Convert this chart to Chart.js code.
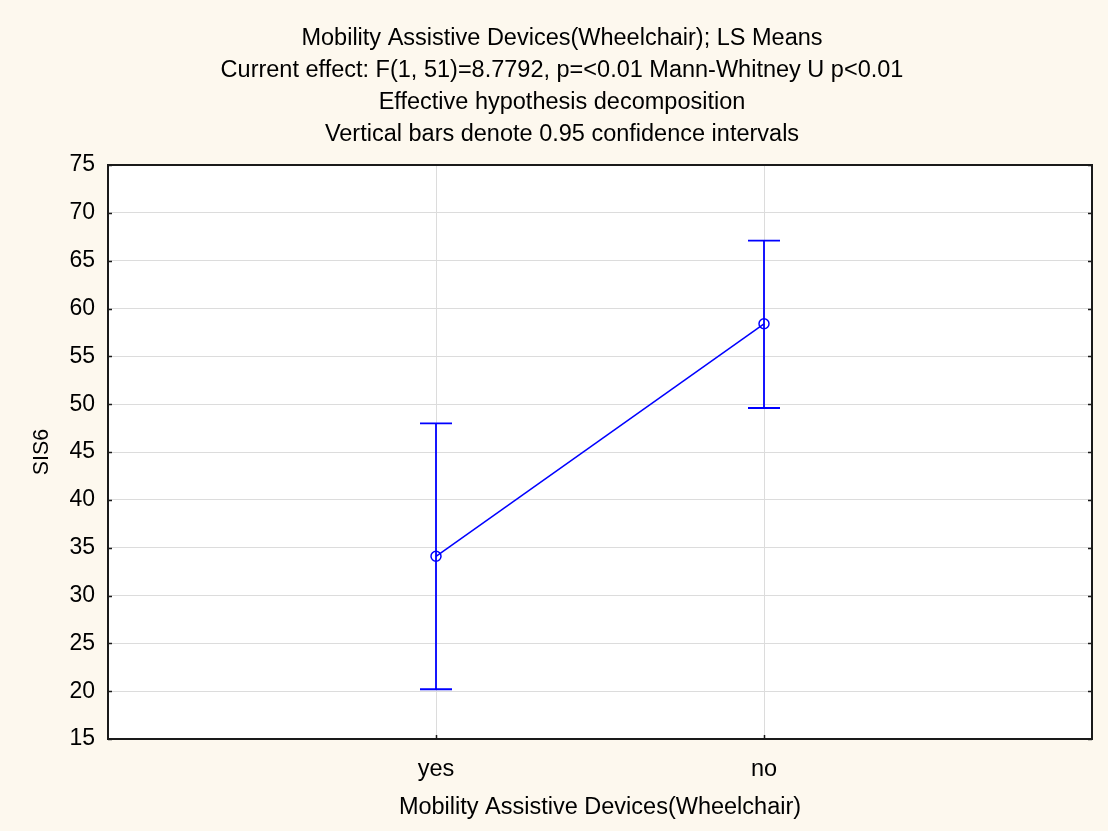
<!DOCTYPE html>
<html>
<head>
<meta charset="utf-8">
<title>SIS6 LS Means</title>
<script src="https://cdn.jsdelivr.net/npm/chart.js@4/dist/chart.umd.min.js"></script>
<style>
  html, body { margin: 0; padding: 0; background: #fdf8ee; }
  canvas { display: block; }
</style>
</head>
<body>
<canvas id="lsMeansChart" width="1108" height="831"></canvas>
<script>
// Wheelchair groups and their SIS6 least-squares means with 95% CI
const categories = ['yes', 'no'];
const lsMeans = [34.1, 58.4];
const ciLower = [20.2, 49.6];
const ciUpper = [48.0, 67.1];

const yMin = 15;
const yMax = 75;
const yStep = 5;

const titleLines = [
    'Mobility Assistive Devices(Wheelchair); LS Means',
    'Current effect: F(1, 51)=8.7792, p=<0.01 Mann-Whitney U p<0.01',
    'Effective hypothesis decomposition',
    'Vertical bars denote 0.95 confidence intervals'
];
const xTitle = 'Mobility Assistive Devices(Wheelchair)';
const yTitle = 'SIS6';

// empty slots on both sides keep the two groups at 1/3 and 2/3 of the width
const xLabels = [''].concat(categories, ['']);
const yValues = [null].concat(lsMeans, [null]);

const FONT = "'Liberation Sans', Arial, sans-serif";
const LINE_BLUE = '#0000ff';

// white plot area, frame, inward ticks and the CI whiskers
const plotFrame = {
    id: 'plotFrame',
    beforeDraw(chart) {
        const { ctx, chartArea: a } = chart;
        ctx.save();
        ctx.fillStyle = '#fdf8ee';
        ctx.fillRect(0, 0, chart.width, chart.height);
        ctx.fillStyle = '#ffffff';
        ctx.fillRect(a.left, a.top, a.right - a.left, a.bottom - a.top);
        ctx.restore();
    },
    beforeDatasetsDraw(chart) {
        const { ctx, scales } = chart;
        const x = scales.x;
        const y = scales.y;
        ctx.save();
        ctx.strokeStyle = LINE_BLUE;
        ctx.lineWidth = 1.8;
        const cap = 16;
        categories.forEach((c, i) => {
            const px = x.getPixelForValue(i + 1);
            const top = y.getPixelForValue(ciUpper[i]);
            const bot = y.getPixelForValue(ciLower[i]);
            ctx.beginPath();
            ctx.moveTo(px, top);
            ctx.lineTo(px, bot);
            ctx.moveTo(px - cap, top);
            ctx.lineTo(px + cap, top);
            ctx.moveTo(px - cap, bot);
            ctx.lineTo(px + cap, bot);
            ctx.stroke();
        });
        ctx.restore();
    },
    afterDraw(chart) {
        const { ctx, chartArea: a, scales } = chart;
        ctx.save();
        ctx.strokeStyle = '#1a1a1a';
        ctx.lineWidth = 2;
        ctx.strokeRect(a.left, a.top, a.right - a.left, a.bottom - a.top);

        // short inward tick marks
        ctx.lineWidth = 1.5;
        ctx.beginPath();
        for (let v = yMin; v <= yMax; v += yStep) {
            const py = Math.round(scales.y.getPixelForValue(v)) + 0.5;
            ctx.moveTo(a.left, py);
            ctx.lineTo(a.left + 4, py);
            ctx.moveTo(a.right, py);
            ctx.lineTo(a.right - 4, py);
        }
        categories.forEach((c, i) => {
            const px = Math.round(scales.x.getPixelForValue(i + 1)) + 0.5;
            ctx.moveTo(px, a.bottom);
            ctx.lineTo(px, a.bottom - 4);
        });
        ctx.stroke();
        ctx.restore();
    }
};

new Chart(document.getElementById('lsMeansChart'), {
    type: 'line',
    data: {
        labels: xLabels,
        datasets: [{
            data: yValues,
            borderColor: LINE_BLUE,
            borderWidth: 1.5,
            pointRadius: 5,
            pointBorderWidth: 1.5,
            pointBorderColor: LINE_BLUE,
            pointBackgroundColor: 'rgba(0,0,0,0)',
            spanGaps: false,
            tension: 0
        }]
    },
    options: {
        responsive: false,
        animation: false,
        layout: { padding: { top: 0, right: 15, bottom: 0, left: 31 } },
        plugins: {
            legend: { display: false },
            tooltip: { enabled: false },
            title: {
                display: true,
                text: titleLines,
                color: '#000000',
                font: { family: FONT, size: 23.5, weight: 'normal', lineHeight: 32 / 23.5 },
                padding: { top: 23, bottom: 14 }
            }
        },
        scales: {
            x: {
                type: 'category',
                offset: false,
                afterFit: scale => { scale.height = 92; },
                grid: {
                    color: ctx => (ctx.index === 0 || ctx.index === xLabels.length - 1) ? 'rgba(0,0,0,0)' : '#dcdcdc',
                    lineWidth: 1,
                    drawTicks: false
                },
                border: { display: false },
                ticks: {
                    color: '#000000',
                    font: { family: FONT, size: 23.5 },
                    padding: 16,
                    maxRotation: 0,
                    autoSkip: false
                },
                title: {
                    display: true,
                    text: xTitle,
                    color: '#000000',
                    font: { family: FONT, size: 23.5 },
                    padding: { top: 0, bottom: 9 }
                }
            },
            y: {
                min: yMin,
                max: yMax,
                afterFit: scale => { scale.width = 77; },
                grid: {
                    color: '#dcdcdc',
                    lineWidth: 1,
                    drawTicks: false
                },
                border: { display: false },
                ticks: {
                    stepSize: yStep,
                    color: '#000000',
                    font: { family: FONT, size: 23 },
                    padding: 13
                },
                title: {
                    display: true,
                    text: yTitle,
                    color: '#000000',
                    font: { family: FONT, size: 21.5 },
                    padding: { top: -2, bottom: 0 }
                }
            }
        }
    },
    plugins: [plotFrame]
});
</script>
</body>
</html>
